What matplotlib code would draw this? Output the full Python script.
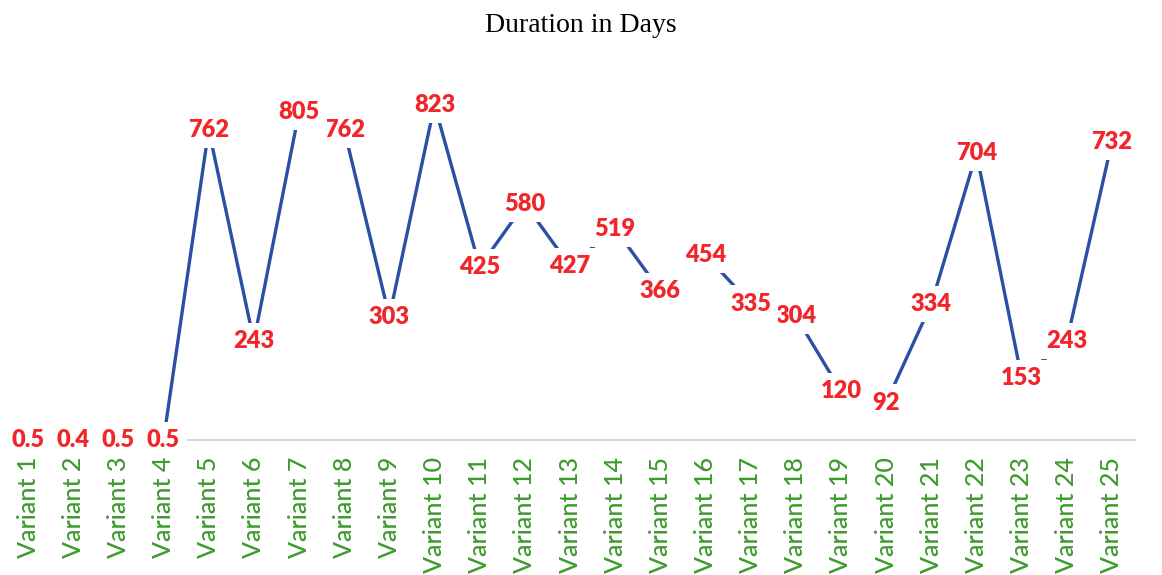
import matplotlib as mpl
mpl.use('Agg')
from matplotlib import pyplot as plt
import numpy as np

variants = ['Variant %d' % i for i in range(1, 26)]
days = [0.5, 0.4, 0.5, 0.5, 762, 243, 805, 762, 303, 823, 425, 580, 427,
        519, 366, 454, 335, 304, 120, 92, 334, 704, 153, 243, 732]
day_labels = ['0.5', '0.4', '0.5', '0.5', '762', '243', '805', '762', '303',
              '823', '425', '580', '427', '519', '366', '454', '335', '304',
              '120', '92', '334', '704', '153', '243', '732']

W, H = 1162, 575
fig = plt.figure(figsize=(W/100, H/100), dpi=100)
ax = fig.add_axes([5/W, 135/H, 1130/W, 380/H])

x = np.arange(len(days))
ax.plot(x, days, color='#2A4FA5', lw=2.4, zorder=2, solid_capstyle='butt')

# earlier labels drawn on top so a neighbour's box doesn't clip them
for i, (xi, v, s) in enumerate(zip(x, days, day_labels)):
    ax.text(xi, v, s, ha='center', va='center', color='#F0262A',
            fontsize=17, fontweight='heavy', family='Lato',
            zorder=5 - i*0.01,
            bbox=dict(boxstyle='square,pad=0.3', fc='white', ec='none'),
            clip_on=False)

ax.set_xlim(-0.51, 24.51)
ax.set_ylim(0, 933)
ax.set_xticks(x)
ax.set_xticklabels(variants, rotation=90, color='#3E9A2E', fontsize=18,
                   family='Lato', fontweight='medium')
ax.tick_params(axis='x', length=0, pad=12)
ax.set_yticks([])
for sp in ['left', 'right', 'top']:
    ax.spines[sp].set_visible(False)
ax.spines['bottom'].set_color('#D9D9D9')
ax.spines['bottom'].set_linewidth(1.5)

fig.text(0.5, 1 - 25/H, 'Duration in Days', ha='center', va='center',
         family='Liberation Serif', fontsize=20)

fig.savefig('out.png', dpi=100, facecolor='white')
